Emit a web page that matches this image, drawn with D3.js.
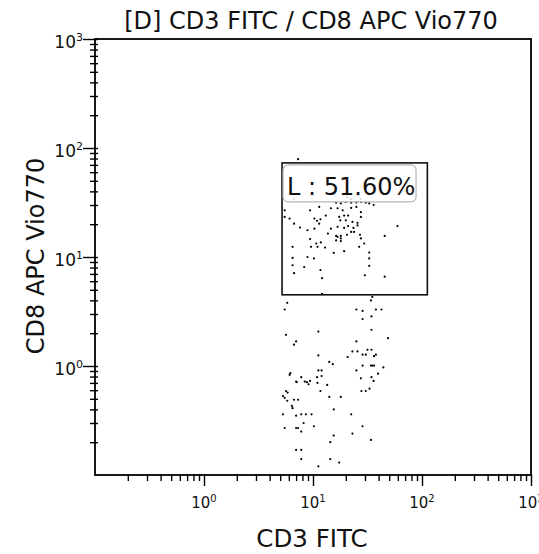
<!DOCTYPE html>
<html>
<head>
<meta charset="utf-8">
<script src="https://cdn.jsdelivr.net/npm/d3@7"></script>
<style>
  body { margin: 0; background: #fff; }
  svg { display: block; }
</style>
</head>
<body>
<svg id="chart" width="539" height="554"></svg>
<script>
// events as [CD3 FITC, CD8 APC Vio770]
const events = [
  [7.3,79],
  [20.5,35.6],[22.4,34],[25.4,36.8],[27.5,34],[6.7,34],
  [16.3,31.5],[18,31],[20,32],[22.4,31.5],[25,31.7],[27.6,32],[30.5,31.5],[32.8,31],[36,30],
  [5.5,26.8],[9.4,26.8],[11.4,28.8],[14.6,28],[16.8,28],[18.7,26.8],[22.4,28.2],[25,28.8],[27.5,25.8],
  [5.5,23.3],[6.1,22.5],[10.3,22.5],[11.7,22.2],[13.1,24],[17.4,23.3],[19.3,24],[21,24],[17.8,21.7],[20,21.7],[23,21],[25.6,20.6],[27.5,23.3],
  [6.7,20.2],[7.6,18.6],[10.9,21.5],[11.4,20.2],[14.6,18.2],[16.8,18.9],[19.3,18.5],[21,19.2],[23.5,18.5],[25.6,19.5],[59.5,19.2],
  [8.9,17.6],[10.3,18.2],[13.7,16.4],[16.3,15.6],[18,15.6],[20.5,16],[22.4,17],[23.8,17],[27,16],[45.5,15.6],
  [9.4,14.6],[10.7,13.3],[11.8,13.6],[12.9,12.2],[16.8,15.3],[18,14.8],[16.3,14.2],[18,14],[27.5,14.8],[29.5,13.3],
  [6.5,12.4],[9.6,12.4],[11,12.4],[15.5,10.9],[19.3,11.3],[26.5,12.4],[32.8,11],
  [6.5,9.8],[8.9,10],[10.2,9.7],[32.8,9.7],[6.5,8.4],[8.3,8.1],[11.7,7.6],[32.8,8.3],[6.7,7.1],[12.1,6.4],[29.9,6.8],[45.5,6.6],
  [12.1,4.6],[35,4.3],[34,4.0],[5.8,3.8],
  [5.5,3.3],[25,3.3],[28.5,3.2],[37.8,3.3],[42.5,3.3],[28.5,2.7],[34.4,2.85],
  [5.65,1.93],[11.2,2.07],[34.4,2.15],[48.8,1.8],
  [7,1.68],[6.7,1.57],[25,1.68],
  [11.2,1.25],[23,1.36],[25.6,1.36],[31.6,1.41],[34.4,1.41],[20.8,1.21],[28.5,1.27],[30.5,1.27],[36.3,1.23],[37.8,1.27],
  [14.1,1.09],[15.2,1.04],[28.5,1.01],[34,1.01],[35,1.01],[36.3,1.01],[44.2,0.97],
  [6.2,0.86],[6.1,0.83],[11.2,0.91],[12,0.91],[10.9,0.79],[12,0.81],[25,0.91],[39.5,0.85],
  [7,0.72],[7.8,0.79],[8.4,0.72],[8.8,0.71],[9.4,0.73],[7.1,0.71],[9.1,0.68],[11,0.7],[13.5,0.67],[27.5,0.77],[34.4,0.79],[36,0.73],
  [5.65,0.59],[5.85,0.57],[5.3,0.53],[5.5,0.51],[5.8,0.48],[6.7,0.49],[7.3,0.49],[11.7,0.59],[14.1,0.52],[18,0.52],[27.8,0.59],[30.5,0.59],[33,0.62],
  [6.4,0.43],[6.5,0.41],[15.5,0.4],
  [5.3,0.36],[7,0.35],[7.8,0.36],[8.6,0.36],[9.7,0.36],[22.4,0.36],
  [8.2,0.3],[10.2,0.28],[28.5,0.28],
  [5.5,0.27],[7,0.27],[7.3,0.27],[7.8,0.25],[15.5,0.23],[23,0.24],
  [14.4,0.2],[34,0.21],
  [7,0.17],[7.8,0.17],[7.8,0.14],[14.4,0.14],[17.4,0.13],[11.2,0.12]
];

// gate L (rectangle) in data units
const gateCd3 = [5.2, 112];
const gateCd8 = [4.5, 73];
const gateLabel = "L : 51.60%";

const axisRange = [0.1, 1000];
const decades = [1, 10, 100, 1000];
const decadeExp = ["0", "1", "2", "3"];

const chartTitle = "[D] CD3 FITC / CD8 APC Vio770";
const xTitle = "CD3 FITC";
const yTitle = "CD8 APC Vio770";

const svg = d3.select("#chart");
const plotLeft = 95, plotRight = 531, plotTop = 39, plotBottom = 475;

const x = d3.scaleLog().domain(axisRange).range([plotLeft, plotRight]);
const y = d3.scaleLog().domain(axisRange).range([plotBottom, plotTop]);

// minor ticks = 2..9 of each decade (no 0.1, no decades)
const minor = x.ticks().filter(v => !decades.includes(v) && v > axisRange[0]);

const labelFont = "'DejaVu Sans', Verdana, sans-serif";
const tickFont = "'DejaVu Sans', Verdana, sans-serif";

// dots
svg.append("g")
  .selectAll("circle")
  .data(events)
  .enter().append("circle")
  .attr("cx", d => x(d[0]))
  .attr("cy", d => y(d[1]))
  .attr("r", 1.1)
  .attr("fill", "#000");

// y axis: minor + major ticks cross the frame by 3px
const yMinor = svg.append("g")
  .attr("transform", `translate(${plotLeft + 3},0)`)
  .call(d3.axisLeft(y).tickValues(minor).tickSize(8).tickFormat(""));
const yMajor = svg.append("g")
  .attr("transform", `translate(${plotLeft + 3},0)`)
  .call(d3.axisLeft(y).tickValues(decades).tickSize(15).tickFormat(""));

const xMinor = svg.append("g")
  .attr("transform", `translate(0,${plotBottom - 1})`)
  .call(d3.axisBottom(x).tickValues(minor).tickSize(7).tickFormat(""));
const xMajor = svg.append("g")
  .attr("transform", `translate(0,${plotBottom - 1})`)
  .call(d3.axisBottom(x).tickValues(decades).tickSize(12).tickFormat(""));

[yMinor, yMajor, xMinor, xMajor].forEach(g => {
  g.select(".domain").remove();
  g.selectAll(".tick line").attr("stroke", "#000").attr("stroke-width", 1.4);
});

// tick labels 10^n with superscripts
svg.append("g")
  .selectAll("text")
  .data(decades)
  .enter().append("text")
  .attr("x", plotLeft - 12)
  .attr("y", d => y(d) + 9)
  .attr("text-anchor", "end")
  .attr("font-family", tickFont)
  .attr("font-size", 17)
  .attr("fill", "#111")
  .each(function (d, i) {
    const t = d3.select(this);
    t.append("tspan").text("10");
    t.append("tspan").attr("dy", -7).attr("font-size", 11).text(decadeExp[i]);
  });

svg.append("g")
  .selectAll("text")
  .data(decades)
  .enter().append("text")
  .attr("x", d => x(d))
  .attr("y", 508)
  .attr("text-anchor", "middle")
  .attr("font-family", tickFont)
  .attr("font-size", 15)
  .attr("fill", "#111")
  .each(function (d, i) {
    const t = d3.select(this);
    t.append("tspan").text("10");
    t.append("tspan").attr("dy", -6).attr("font-size", 10).text(decadeExp[i]);
  });

// frame
svg.append("rect")
  .attr("x", plotLeft).attr("y", plotTop)
  .attr("width", plotRight - plotLeft).attr("height", plotBottom - plotTop)
  .attr("fill", "none")
  .attr("stroke", "#000")
  .attr("stroke-width", 1.8);

// gate
const gx0 = x(gateCd3[0]), gx1 = x(gateCd3[1]);
const gy0 = y(gateCd8[1]), gy1 = y(gateCd8[0]);
svg.append("rect")
  .attr("x", gx0).attr("y", gy0)
  .attr("width", gx1 - gx0).attr("height", gy1 - gy0)
  .attr("fill", "none")
  .attr("stroke", "#111")
  .attr("stroke-width", 1.6);

const lab = svg.append("g").attr("transform", `translate(${gx0 + 1},${gy0 + 2})`);
lab.append("rect")
  .attr("width", 133).attr("height", 37).attr("rx", 5)
  .attr("fill", "#fff").attr("fill-opacity", 0.85)
  .attr("stroke", "#b5b5b5").attr("stroke-width", 1.2);
lab.append("text")
  .attr("x", 4).attr("y", 30)
  .attr("font-family", labelFont)
  .attr("font-size", 24)
  .attr("fill", "#111")
  .text(gateLabel);

// titles
svg.append("text")
  .attr("x", 311).attr("y", 29)
  .attr("text-anchor", "middle")
  .attr("font-family", labelFont)
  .attr("font-size", 24)
  .attr("fill", "#111")
  .text(chartTitle);

svg.append("text")
  .attr("x", 312).attr("y", 547)
  .attr("text-anchor", "middle")
  .attr("font-family", labelFont)
  .attr("font-size", 24.5)
  .attr("fill", "#111")
  .text(xTitle);

svg.append("text")
  .attr("transform", "rotate(-90)")
  .attr("x", -256).attr("y", 44)
  .attr("text-anchor", "middle")
  .attr("font-family", labelFont)
  .attr("font-size", 24)
  .attr("fill", "#111")
  .text(yTitle);
</script>
</body>
</html>
